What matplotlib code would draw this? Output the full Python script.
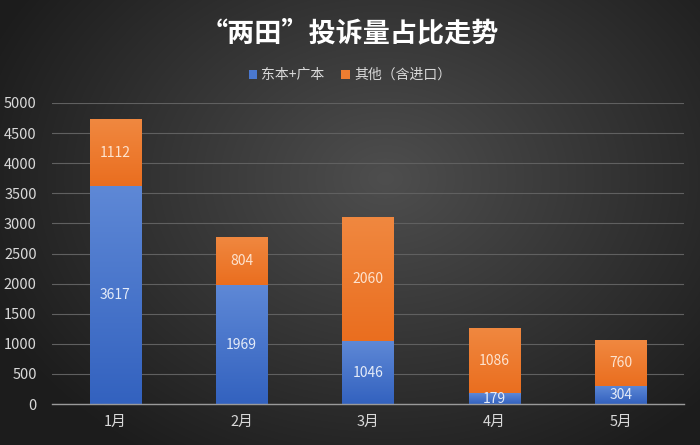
import numpy as np
import matplotlib
matplotlib.use("Agg")
import matplotlib.pyplot as plt

plt.rcParams['font.family'] = ['Noto Sans CJK SC', 'DejaVu Sans']

categories = ['1月', '2月', '3月', '4月', '5月']
series_main = [3617, 1969, 1046, 179, 304]
series_other = [1112, 804, 2060, 1086, 760]
legend_labels = ['东本+广本', '其他（含进口）']
title = '“两田”投诉量占比走势'
yticks = [0, 500, 1000, 1500, 2000, 2500, 3000, 3500, 4000, 4500, 5000]

W, H = 700, 445
fig = plt.figure(figsize=(W / 100, H / 100), dpi=100)

# radial gradient background
bg = fig.add_axes([0, 0, 1, 1])
yy, xx = np.mgrid[0:H, 0:W]
r = np.sqrt(((xx - W * 0.55) / (W * 0.62)) ** 2 + ((yy - H * 0.4) / (H * 0.75)) ** 2)
r = np.clip(r, 0, 1)
inner = np.array([0x4e, 0x4e, 0x4e]) / 255
outer = np.array([0x1c, 0x1c, 0x1c]) / 255
img = inner[None, None, :] * (1 - r[..., None]) + outer[None, None, :] * r[..., None]
bg.imshow(img, aspect='auto', extent=[0, 1, 0, 1])
bg.axis('off')

ax = fig.add_axes([52 / W, 1 - 404 / H, (684 - 52) / W, (404 - 103) / H])
ax.patch.set_alpha(0)
x = np.arange(len(categories))
width = 0.405

def grad_fill(bars, top, bottom):
    grad = np.linspace(0, 1, 100)[:, None]
    c = np.array(top)[None, None, :] * (1 - grad[..., None]) + np.array(bottom)[None, None, :] * grad[..., None]
    for b in bars:
        x0, y0 = b.get_x(), b.get_y()
        w, h = b.get_width(), b.get_height()
        im = ax.imshow(c, aspect='auto', extent=[x0, x0 + w, y0, y0 + h], zorder=3, origin='upper')
        im.set_clip_path(b)

b1 = ax.bar(x, series_main, width, color='#4a78cf', zorder=2, label=legend_labels[0])
b2 = ax.bar(x, series_other, width, bottom=series_main, color='#ed7d31', zorder=2, label=legend_labels[1])
grad_fill(b1, (0x5e / 255, 0x88 / 255, 0xd6 / 255), (0x33 / 255, 0x62 / 255, 0xbf / 255))
grad_fill(b2, (0xf0 / 255, 0x88 / 255, 0x40 / 255), (0xea / 255, 0x6e / 255, 0x1f / 255))

for i in range(len(categories)):
    ax.text(x[i], series_main[i] / 2, str(series_main[i]), ha='center', va='center',
            color='#e4ebf8', fontsize=10, zorder=5)
    ax.text(x[i], series_main[i] + series_other[i] / 2, str(series_other[i]), ha='center', va='center',
            color='#fde3cf', fontsize=10, zorder=5)

ax.set_xlim(-0.5, 4.5)
ax.set_ylim(0, 5000)
ax.set_yticks(yticks)
ax.set_yticklabels([str(v) for v in yticks])
ax.set_xticks(x)
ax.set_xticklabels(categories)
ax.tick_params(axis='both', length=0, colors='#d9d9d9', labelsize=10.5)
ax.tick_params(axis='y', pad=11)
ax.tick_params(axis='x', pad=8)
ax.grid(axis='y', color='#606060', linewidth=0.8, zorder=0)
for s in ['top', 'right', 'left']:
    ax.spines[s].set_visible(False)
ax.spines['bottom'].set_color('#9a9a9a')
ax.spines['bottom'].set_linewidth(1.0)
ax.spines['bottom'].set_zorder(4)

fig.text(0.5, 1 - 33 / H, title, ha='center', va='center', color='white', fontsize=19.5, fontweight='bold')
leg = fig.legend(handles=[b1, b2], labels=legend_labels, loc='center', bbox_to_anchor=(0.5, 1 - 75 / H),
                 ncol=2, frameon=False, fontsize=10, labelcolor='#d9d9d9', handlelength=0.6,
                 handleheight=0.6, handletextpad=0.3, columnspacing=1.2)

fig.savefig('out.png', dpi=100)
